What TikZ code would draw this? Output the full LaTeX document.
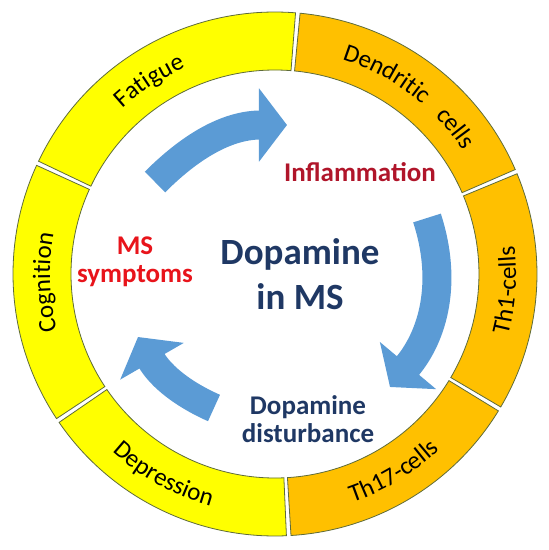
\documentclass[tikz,border=0pt]{standalone}
\usepackage{fontspec}
\setmainfont{Carlito}
\usepackage{tikz}
\usetikzlibrary{arrows.meta, positioning, calc, decorations.text}

\definecolor{ringyellow}{HTML}{FFFF00}
\definecolor{ringorange}{HTML}{FFC000}
\definecolor{ringedge}{HTML}{5E6B3A}
\definecolor{arrowblue}{HTML}{5B9BD5}
\definecolor{navytext}{HTML}{1F3864}
\definecolor{symred}{HTML}{E8141B}
\definecolor{inflred}{HTML}{B0152A}

\newcommand{\ringfont}{\fontsize{25}{30}\selectfont}

\begin{document}
\begin{tikzpicture}[x=1pt, y=1pt, >=Stealth,
    cycarrow/.style={draw=arrowblue, line width=29pt, -{Triangle[width=72pt,length=28pt]}},
    sublabel/.style={font=\bfseries\fontsize{27}{28}\selectfont, align=center, inner sep=0pt},
    ringlabel/.style={decorate, decoration={text along path, text align=center, text={|\ringfont|#1}}}]
    \useasboundingbox (-275,-276) rectangle (274,274);

    % Ring segments
    \foreach \a/\b/\col in {85/155/ringyellow, 155/214/ringyellow, 214/273/ringyellow,
                            273/329/ringorange, 329/383/ringorange, 383/445/ringorange}
        \filldraw[fill=\col, draw=ringedge, line width=0.8pt]
            ({\a+0.5}:262) arc[start angle=\a+0.5, end angle=\b-0.5, radius=262]
            -- ({\b-0.5}:204) arc[start angle=\b-0.5, end angle=\a+0.5, radius=204] -- cycle;

    % Ring labels
    \path[ringlabel=Fatigue] (153:225) arc[start angle=153, end angle=93, radius=225];
    \path[ringlabel=Dendritic~~ cells] (93:225) arc[start angle=93, end angle=13, radius=225];
    \path[ringlabel=Cognition] (212:225) arc[start angle=212, end angle=152, radius=225];
    \path[ringlabel=Th1-cells] (-34:241) arc[start angle=-34, end angle=26, radius=241];
    \path[ringlabel=Th17-cells] (-89:241) arc[start angle=-89, end angle=-29, radius=241];
    \path[ringlabel=Depression] (-149:241) arc[start angle=-149, end angle=-89, radius=241];

    % Centre texts
    \node[sublabel, text=navytext, font=\bfseries\fontsize{37}{45}\selectfont] (dopa) at (25,0) {Dopamine\\in MS};
    \node[sublabel, text=inflred] (infl) at (85,102) {Inflammation};
    \node[sublabel, text=symred] (symp) at (-140,12) {MS\\symptoms};
    \node[sublabel, text=navytext] (dist) at (33,-145) {Dopamine\\disturbance};

    % Cycle arrows
    \coordinate (symp-out) at (-120,92);
    \coordinate (infl-in) at (12,149);
    \coordinate (infl-out) at (152,56);
    \coordinate (dist-in) at (115,-113);
    \coordinate (dist-out) at (-61,-134);
    \coordinate (symp-in) at (-137,-63);
    \draw[cycarrow] (symp-out) to[out=45, in=180] (infl-in);
    \draw[cycarrow] (infl-out) to[out=-72, in=50] (dist-in);
    \draw[cycarrow] (dist-out) to[out=156, in=-60] (symp-in);
\end{tikzpicture}
\end{document}
